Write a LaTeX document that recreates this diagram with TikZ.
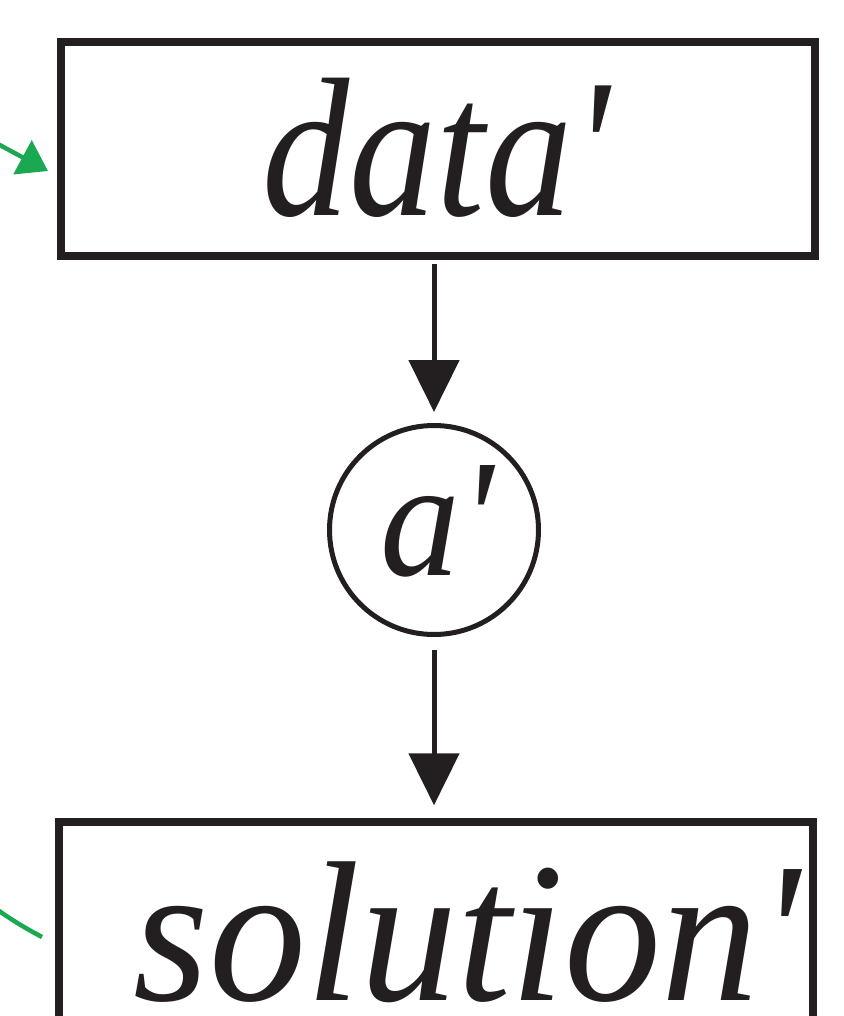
\documentclass[tikz,border=0pt]{standalone}
\usepackage{fontspec}
\setmainfont{Liberation Serif}
\usetikzlibrary{arrows.meta}
\definecolor{ink}{RGB}{35,31,32}
\definecolor{grn}{RGB}{26,168,80}
\begin{document}
\begin{tikzpicture}[x=1pt,y=-1pt,
  box/.style={draw=ink, line width=7.5pt, inner sep=0pt, minimum width=754pt},
  op/.style={draw=ink, line width=5pt, circle, inner sep=0pt, minimum size=209pt},
  lbl/.style={inner sep=0pt, anchor=base, text=ink},
  flow/.style={draw=ink, line width=5pt, -{Triangle[length=52pt,width=50pt]}},
  gflow/.style={draw=grn, line width=4.5pt, -{Triangle[length=29pt,width=38pt]}},
  gline/.style={draw=grn, line width=4.5pt}]
\useasboundingbox (0,0) rectangle (843,1016);
\node[box, minimum height=214pt] (d) at (438,149) {};
\node[op] (c) at (434,530) {};
\node[box, minimum height=220pt] (s) at (436,932) {};
\node[lbl] (dt) at (436,215) {\fontsize{198}{198}\selectfont\scalebox{0.88}[1]{\itshape data\textquotesingle}};
\node[lbl] (at) at (437,575) {\fontsize{168}{168}\selectfont\scalebox{0.95}[1]{\itshape a\textquotesingle}};
\node[lbl] (st) at (467,1000) {\fontsize{200}{200}\selectfont\scalebox{0.97}[1]{\itshape solution\textquotesingle}};
\draw[flow, shorten <=4pt, shorten >=11pt] (c.north |- d.south) -- (c.north);
\draw[flow, shorten <=13pt, shorten >=13pt] (c.south) -- (c.south |- s.north);
\coordinate (g1a) at (-30,129);
\coordinate (g1b) at (48,171);
\draw[gflow] (g1a) -- (g1b);
\coordinate (g2a) at (-12,903);
\coordinate (g2b) at (42,937);
\draw[gline] (g2a) to[bend right=4] (g2b);
\end{tikzpicture}
\end{document}
